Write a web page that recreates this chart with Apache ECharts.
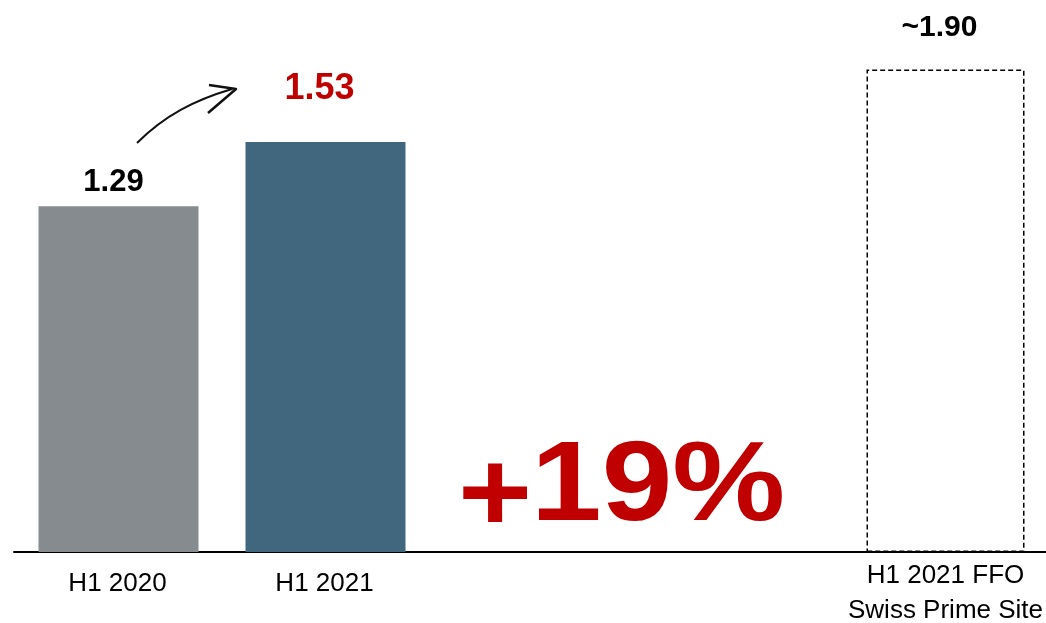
<!DOCTYPE html>
<html><head><meta charset="utf-8">
<script src="https://cdn.jsdelivr.net/npm/echarts@6/dist/echarts.min.js"></script>
<style>html,body{margin:0;padding:0;background:#fff;overflow:hidden}#c{width:1046px;height:623px}</style>
</head><body><div id="c"></div>
<script>
const categories = ['H1 2020', 'H1 2021', '', '', 'H1 2021 FFO\nSwiss Prime Site'];
const actualValues = [1.29, 1.53, null, null, null];
const estimateValues = [null, null, null, null, 1.80];
const valueLabels = ['1.29', '1.53', '', '', '~1.90'];
const growthText = '+19%';

const chart = echarts.init(document.getElementById('c'));
const F = '"Liberation Sans", Arial, sans-serif';
const barColors = ['#868b8f', '#41677f'];
const labelColors = ['#000', '#c00000'];
const labelSizes = [31, 36, 0, 0, 30];
const labelOffsets = [[-5, -3], [-6, -30], [0, 0], [0, 0], [-6, -22]];
const bigFont = 'bold 127px ' + F;

chart.setOption({
  animation: false,
  grid: { left: 14, right: -3, top: 16, bottom: 71, containLabel: false, outerBoundsMode: 'none' },
  xAxis: {
    type: 'category',
    data: categories.map(c => ({ value: c, textStyle: { padding: [c.indexOf('\n') >= 0 ? 0 : 8, 0, 0, 0] } })),
    axisLine: { lineStyle: { color: '#000', width: 2 } },
    axisTick: { show: false },
    axisLabel: { interval: 0, hideOverlap: false, color: '#000', fontFamily: F, fontSize: 26, lineHeight: 35, margin: 6 }
  },
  yAxis: { type: 'value', min: 0, max: 2, show: false, splitLine: { show: false } },
  series: [
    {
      type: 'bar', barWidth: 160, barGap: '-100%',
      data: actualValues.map((v, i) => v == null ? null : {
        value: v,
        itemStyle: { color: barColors[i] },
        label: {
          show: true, position: 'top', formatter: valueLabels[i],
          color: labelColors[i], fontFamily: F, fontWeight: 'bold', fontSize: labelSizes[i],
          offset: labelOffsets[i]
        }
      })
    },
    {
      type: 'bar', barWidth: 158, barGap: '-100%', z: 3,
      data: estimateValues.map((v, i) => v == null ? null : {
        value: v,
        itemStyle: { color: 'rgba(255,255,255,0)', borderColor: '#000', borderWidth: 1.5, borderType: [5, 3] },
        label: {
          show: true, position: 'top', formatter: valueLabels[i],
          color: '#000', fontFamily: F, fontWeight: 'bold', fontSize: labelSizes[i],
          offset: labelOffsets[i]
        }
      })
    }
  ],
  graphic: [
    {
      type: 'text', x: 458, y: 433, originX: 0, originY: 96, scaleY: 0.9,
      style: { text: growthText.slice(0, 1), fill: '#c00000', font: bigFont, align: 'left', verticalAlign: 'top' }
    },
    {
      type: 'text', x: 531, y: 420, originX: 0, originY: 108, scaleY: 0.893,
      style: { text: growthText.slice(1), fill: '#c00000', font: bigFont, align: 'left', verticalAlign: 'top' }
    },
    {
      type: 'bezierCurve',
      shape: { x1: 137, y1: 143, cpx1: 165, cpy1: 115, cpx2: 195, cpy2: 100, x2: 232, y2: 89 },
      style: { stroke: '#111', lineWidth: 2, fill: null }
    },
    {
      type: 'polyline',
      shape: { points: [[209, 85], [236, 89], [208, 113]] },
      style: { stroke: '#111', lineWidth: 2.5, fill: null, lineJoin: 'round' }
    }
  ]
});
</script></body></html>
